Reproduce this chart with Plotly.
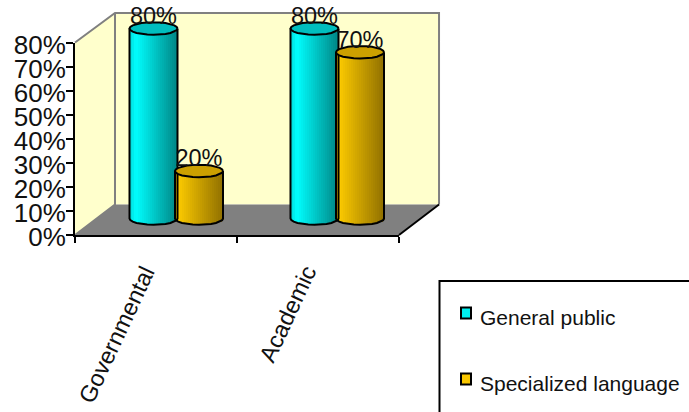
import numpy as np
import plotly.graph_objects as go

categories = ["Governmental", "Academic"]
general_public = [80, 80]
specialized_language = [20, 70]
y_ticks = [0, 10, 20, 30, 40, 50, 60, 70, 80]

W, H = 689, 412
FONT = "Liberation Sans"
def fx(px): return px / W
def fy(py): return 1 - py / H

# front axes, in pixels
AX_L, AX_R, AX_T, AX_B = 75, 399, 42.5, 235
DX, DY = 40, 30.5
# bars stand half way into the depth, on a slightly tighter scale
BAR_Y0 = 218.5
PX_PER_UNIT = 2.375
B_TOP, B_BOT = 2, 238
Y2_RANGE = [(BAR_Y0 - B_BOT) / PX_PER_UNIT, (BAR_Y0 - B_TOP) / PX_PER_UNIT]
PX_PER_CAT = 161
BAR_X0 = 176
BAR_W = 48 / PX_PER_CAT
CAP = 6.3 / PX_PER_UNIT
LABEL_UP = 10.5 / PX_PER_UNIT

series = [
    dict(name="General public", values=general_public, start=-46.5 / PX_PER_CAT, cap="#00BEBE",
         stops=[(0, (0, 225, 225)), (0.1, (0, 255, 255)), (1, (0, 128, 128))]),
    dict(name="Specialized language", values=specialized_language, start=-1 / PX_PER_CAT, cap="#CCA000",
         stops=[(0, (255, 204, 0)), (1, (140, 108, 0))]),
]

def shade(stops, t):
    xs = [s[0] for s in stops]
    return "rgb(%d,%d,%d)" % tuple(np.interp(t, xs, [s[1][k] for s in stops]) for k in range(3))

fig = go.Figure()
# invisible trace that owns the category axis
fig.add_trace(go.Scatter(x=categories, y=[0, 0], mode="markers", marker=dict(opacity=0),
                         showlegend=False, hoverinfo="skip", xaxis="x", yaxis="y"))

N = 24
for s in series:
    for i in range(N):
        t0, t1 = i / N, (i + 1) / N
        u = (t0 + t1) - 1
        sag = CAP * np.sqrt(max(1 - u * u, 0))
        base = [-sag, -sag]
        tops = [v - sag for v in s["values"]]
        fig.add_trace(go.Bar(x=[0, 1], y=[t - b for t, b in zip(tops, base)], base=base,
                             offset=s["start"] + BAR_W * t0, width=BAR_W / N * 1.15,
                             marker=dict(color=shade(s["stops"], t0), line=dict(width=0)),
                             showlegend=False, hoverinfo="skip", xaxis="x2", yaxis="y2"))
    th = np.linspace(0, 2 * np.pi, 25)
    for c, v in enumerate(s["values"]):
        cx = c + s["start"] + BAR_W / 2
        rx = BAR_W / 2
        # cap
        fig.add_trace(go.Scatter(x=cx + rx * np.cos(th), y=v + CAP * np.sin(th), mode="lines", fill="toself",
                                 fillcolor=s["cap"], line=dict(color="black", width=2),
                                 showlegend=False, hoverinfo="skip", xaxis="x2", yaxis="y2"))
        # silhouette: sides and lower rim
        lo = np.linspace(np.pi, 2 * np.pi, 13)
        xs = np.r_[cx - rx, cx + rx * np.cos(lo), cx + rx]
        ys = np.r_[v, -CAP * np.abs(np.sin(lo)), v]
        fig.add_trace(go.Scatter(x=xs, y=ys, mode="lines", line=dict(color="black", width=2),
                                 showlegend=False, hoverinfo="skip", xaxis="x2", yaxis="y2"))
# data labels on top of every bar
for s in series:
    fig.add_trace(go.Scatter(x=[c + s["start"] + BAR_W / 2 for c in range(2)],
                             y=[v + LABEL_UP for v in s["values"]],
                             mode="text", text=["%d%%" % v for v in s["values"]],
                             textposition="middle center",
                             textfont=dict(family=FONT, size=23.5, color="#111111"),
                             showlegend=False, hoverinfo="skip", xaxis="x2", yaxis="y2", cliponaxis=False))

def poly(pts, fill=None, line=None, width=0):
    path = "M" + " L".join("%.4f,%.4f" % (fx(a), fy(b)) for a, b in pts)
    if fill:
        path += " Z"
    return dict(type="path", xref="paper", yref="paper", path=path, layer="below",
                fillcolor=fill if fill else "rgba(0,0,0,0)",
                line=dict(color=line if line else "rgba(0,0,0,0)", width=width))

BL, BR, BT, BB = AX_L + DX, AX_R + DX, AX_T - 29.5, AX_B - DY
shapes = [
    poly([(AX_L, AX_B), (AX_L, AX_T), (BL, BT), (BL, BB)], fill="#FFFFCC"),
    poly([(BL, BT), (BR, BT), (BR, BB), (BL, BB)], fill="#FFFFCC"),
    poly([(AX_L, AX_B), (BL, BB), (BR, BB), (AX_R, AX_B)], fill="#808080"),
    poly([(AX_L, AX_T), (BL, BT), (BR, BT), (BR, BB)], line="#808080", width=2),
    poly([(BL, BT), (BL, BB), (AX_L, AX_B)], line="#808080", width=2),
    poly([(AX_R, AX_B), (BR, BB)], line="black", width=2),
]
# legend box and swatches
LEG_L, LEG_T = 439.5, 281
shapes.append(dict(type="rect", xref="paper", yref="paper", x0=fx(LEG_L), x1=fx(W + 10), y0=fy(H + 10), y1=fy(LEG_T),
                   fillcolor="white", line=dict(color="black", width=2), layer="above"))
annotations = []
for s, yc in zip(series, [313, 379]):
    shapes.append(dict(type="rect", xref="paper", yref="paper", x0=fx(461), x1=fx(471), y0=fy(yc + 5.5), y1=fy(yc - 5.5),
                       fillcolor=shade(s["stops"], 0.05), line=dict(color="black", width=2), layer="above"))
    annotations.append(dict(text=s["name"], xref="paper", yref="paper", x=fx(479), y=fy(yc + 4), xanchor="left",
                            yanchor="middle", showarrow=False, borderpad=0, font=dict(family=FONT, size=21, color="#111111")))
# category labels, rotated, with their upper right corner under the tick position
for c in categories:
    annotations.append(dict(text=c, xref="x", yref="paper", x=c, y=fy(261), xanchor="right", yanchor="top",
                            textangle=-65, showarrow=False, borderpad=0, xshift=5,
                            font=dict(family=FONT, size=23.5, color="#111111")))

fig.update_layout(
    width=W, height=H, autosize=False, margin=dict(l=0, r=0, t=0, b=0, autoexpand=False),
    paper_bgcolor="white", plot_bgcolor="rgba(0,0,0,0)", showlegend=False,
    barmode="overlay", bargap=0, shapes=shapes, annotations=annotations,
    xaxis=dict(domain=[fx(AX_L), fx(AX_R)], type="category", categoryorder="array", categoryarray=categories,
               automargin=False, showticklabels=False,
               range=[-0.5, 1.5], tickson="boundaries", ticks="outside", ticklen=6, tickwidth=2, tickcolor="black",
               showline=True, linecolor="black", linewidth=2, showgrid=False, zeroline=False),
    yaxis=dict(domain=[fy(AX_B), fy(AX_T)], range=[0, 80], tickmode="array", tickvals=y_ticks, automargin=False,
               ticktext=["%d%%" % v for v in y_ticks], ticks="outside", ticklen=7, tickwidth=2, tickcolor="black",
               showline=True, linecolor="black", linewidth=2, showgrid=False, zeroline=False,
               ticklabelstandoff=-5, ticklabelshift=2,
               tickfont=dict(family=FONT, size=26, color="#111111")),
    xaxis2=dict(domain=[fx(BAR_X0 - 0.5 * PX_PER_CAT), fx(BAR_X0 + 1.5 * PX_PER_CAT)], range=[-0.5, 1.5],
                anchor="y2", visible=False),
    yaxis2=dict(domain=[fy(B_BOT), fy(B_TOP)], range=Y2_RANGE, anchor="x2", visible=False),
)
fig.write_html("out.html", config=dict(displayModeBar=False),
               post_script="document.body.style.margin='0';")
